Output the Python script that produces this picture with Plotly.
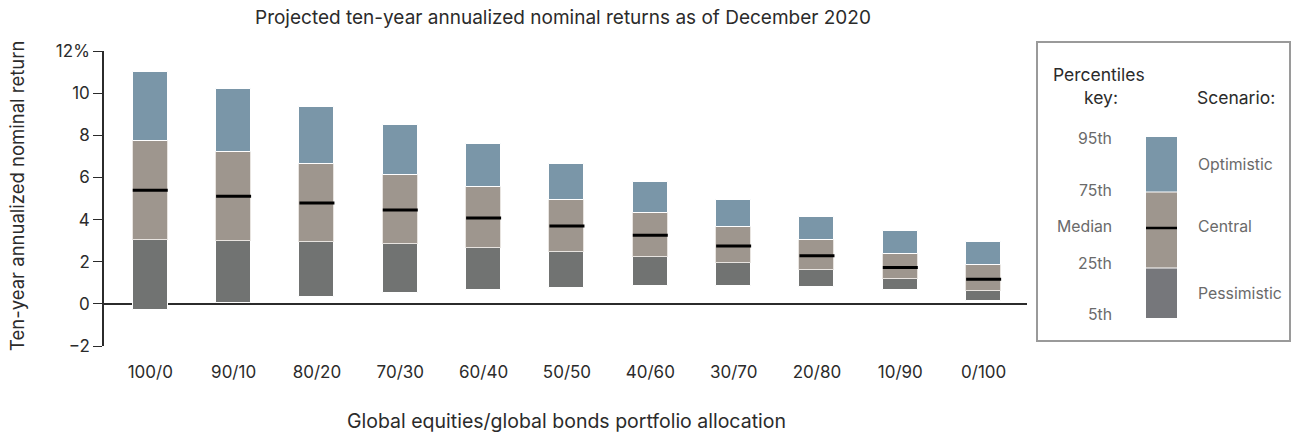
import plotly.graph_objects as go

categories = ["100/0", "90/10", "80/20", "70/30", "60/40", "50/50", "40/60", "30/70", "20/80", "10/90", "0/100"]
p5 = [-0.28, 0.02, 0.33, 0.51, 0.65, 0.74, 0.84, 0.85, 0.81, 0.67, 0.14]
p25 = [3.04, 2.99, 2.93, 2.82, 2.64, 2.45, 2.23, 1.93, 1.60, 1.16, 0.62]
median = [5.39, 5.11, 4.79, 4.45, 4.08, 3.69, 3.26, 2.75, 2.28, 1.73, 1.17]
p75 = [7.72, 7.21, 6.66, 6.11, 5.54, 4.92, 4.30, 3.67, 3.02, 2.39, 1.84]
p95 = [10.99, 10.18, 9.33, 8.48, 7.58, 6.63, 5.77, 4.92, 4.11, 3.45, 2.93]

ytick_vals = [-2, 0, 2, 4, 6, 8, 10, 12]
ytick_text = ["\u22122", "0", "2", "4", "6", "8", "10", "12%"]

C_OPT = "#7a96a8"
C_CEN = "#9e968e"
C_PES = "#717372"
C_PES_KEY = "#76777b"
FONT = "Inter"
TXT = "#2b2b2b"
TXT2 = "#6a6a6a"

W, H = 1293, 435
ML, MR, MT, MB = 104, 266, 51, 89
PW, PH = W - ML - MR, H - MT - MB


def px(x):
    return (x - ML) / PW


def py(y):
    return (H - MB - y) / PH


fig = go.Figure()
xs = list(range(len(categories)))
bw = 0.42
fig.add_trace(go.Bar(x=xs, base=p5, y=[b - a for a, b in zip(p5, p25)], width=bw,
                     marker=dict(color=C_PES, line=dict(color="white", width=1)), name="Pessimistic"))
fig.add_trace(go.Bar(x=xs, base=p25, y=[b - a for a, b in zip(p25, p75)], width=bw,
                     marker=dict(color=C_CEN, line=dict(color="#e8e4e0", width=1)), name="Central"))
fig.add_trace(go.Bar(x=xs, base=p75, y=[b - a for a, b in zip(p75, p95)], width=bw,
                     marker=dict(color=C_OPT, line=dict(color="white", width=1)), name="Optimistic"))
fig.add_trace(go.Scatter(x=xs, y=median, mode="markers",
                         marker=dict(symbol="line-ew", size=25, line=dict(color="black", width=3)),
                         name="Median"))

shapes = []
annotations = []

# legend box
shapes.append(dict(type="rect", xref="paper", yref="paper", x0=px(1037), x1=px(1290), y0=py(341), y1=py(42),
                   line=dict(color="#9a9a9a", width=2), fillcolor="rgba(0,0,0,0)"))
# key bar
kx0, kx1 = px(1146), px(1177)
shapes.append(dict(type="rect", xref="paper", yref="paper", x0=kx0, x1=kx1, y0=py(191.5), y1=py(137),
                   fillcolor=C_OPT, line=dict(width=0)))
shapes.append(dict(type="rect", xref="paper", yref="paper", x0=kx0, x1=kx1, y0=py(267.5), y1=py(192.5),
                   fillcolor=C_CEN, line=dict(width=0)))
shapes.append(dict(type="rect", xref="paper", yref="paper", x0=kx0, x1=kx1, y0=py(318), y1=py(268.5),
                   fillcolor=C_PES_KEY, line=dict(width=0)))
shapes.append(dict(type="line", xref="paper", yref="paper", x0=kx0, x1=kx1, y0=py(228), y1=py(228),
                   line=dict(color="black", width=2.5)))


def ann(text, x, y, xanchor="center", color=TXT, size=15, angle=0):
    annotations.append(dict(text=text, xref="paper", yref="paper", x=px(x), y=py(y), xanchor=xanchor,
                            yanchor="middle", showarrow=False, textangle=angle,
                            font=dict(family=FONT, size=size, color=color)))


ann("Percentiles", 1099, 74, size=17.5)
ann("key:", 1101, 97, size=17.5)
ann("Scenario:", 1236, 97, size=17.5)
for t, yy in [("95th", 138), ("75th", 190), ("Median", 226), ("25th", 263), ("5th", 314)]:
    ann(t, 1114, yy, xanchor="right", color=TXT2, size=15.8)
for t, yy in [("Optimistic", 164), ("Central", 226), ("Pessimistic", 293)]:
    ann(t, 1196, yy, xanchor="left", color=TXT2, size=15.8)

ann("Global equities/global bonds portfolio allocation", 566, 421, size=19.5)
ann("Projected ten-year annualized nominal returns as of December 2020", 563, 17, size=19)
ann("Ten-year annualized nominal return", 17, 196, size=18.5, angle=-90)

fig.update_layout(
    width=W, height=H,
    margin=dict(l=ML, r=MR, t=MT, b=MB),
    plot_bgcolor="white", paper_bgcolor="white",
    barmode="overlay", bargap=0,
    showlegend=False,
    font=dict(family=FONT, color=TXT, size=15),
    shapes=shapes, annotations=annotations,
)
fig.update_xaxes(range=[-0.555, 10.52], tickvals=xs, ticktext=categories, showline=False, showgrid=False,
                 zeroline=False, ticks="", ticklabelstandoff=14, tickfont=dict(size=17, color=TXT))
fig.update_yaxes(range=[-2, 12], tickvals=ytick_vals, ticktext=ytick_text, showline=True, linecolor=TXT,
                 linewidth=1.5, ticks="outside", ticklen=9, tickcolor=TXT, tickwidth=1.2, showgrid=False,
                 zeroline=True, zerolinecolor=TXT, zerolinewidth=2, tickfont=dict(size=17, color=TXT))

fig.write_html("out.html", config={"displayModeBar": False},
               post_script="document.body.style.margin='0px';")
